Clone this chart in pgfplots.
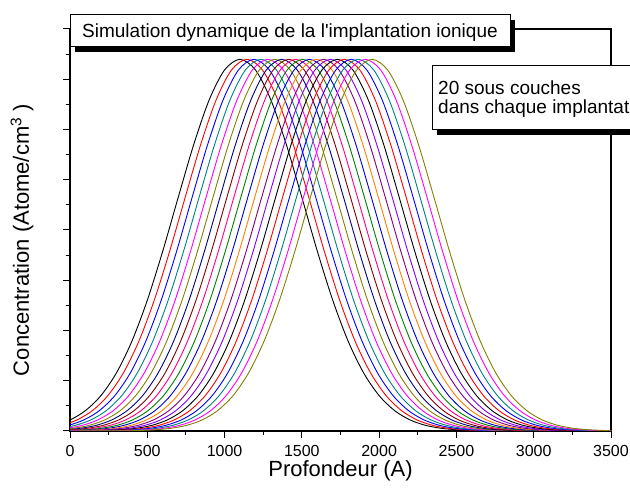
\documentclass[border=0pt]{standalone}
\usepackage{pgfplots}
\usepackage{pgfplotstable}
\pgfplotsset{compat=1.18}
\usepackage{fontspec}
\setmainfont{Liberation Sans}[Ligatures=TeXOff]

\definecolor{c1}{HTML}{000000}
\definecolor{c2}{HTML}{FF0000}
\definecolor{c3}{HTML}{0000FF}
\definecolor{c4}{HTML}{008080}
\definecolor{c5}{HTML}{FF00FF}
\definecolor{c6}{HTML}{808000}
\definecolor{c7}{HTML}{000080}
\definecolor{c8}{HTML}{800000}
\definecolor{c9}{HTML}{FF0080}
\definecolor{c10}{HTML}{008000}
\definecolor{c11}{HTML}{0000CC}
\definecolor{c12}{HTML}{FF8000}
\definecolor{c13}{HTML}{800080}
\definecolor{c14}{HTML}{8000FF}

\pgfplotscreateplotcyclelist{origin}{
{c1},{c2},{c3},{c4},{c5},{c6},{c7},{c8},{c9},{c10},{c11},{c12},{c13},{c14},{c1},{c2},{c3},{c4},{c5},{c6}}

% profile value y and depth of each of the 20 sub-layer profiles
\pgfplotstableread{
y x1 x2 x3 x4 x5 x6 x7 x8 x9 x10 x11 x12 x13 x14 x15 x16 x17 x18 x19 x20
0.00001 -900 -855 -810 -765 -720 -675 -630 -585 -540 -495 -450 -405 -360 -315 -270 -225 -180 -135 -90 -45
0.00059 -500 -455 -410 -365 -320 -275 -230 -185 -140 -95 -50 -5 40 85 130 175 220 265 310 355
0.00146 -400 -355 -310 -265 -220 -175 -130 -85 -40 5 50 95 140 185 230 275 320 365 410 455
0.00338 -300 -255 -210 -165 -120 -75 -30 15 60 105 150 195 240 285 330 375 420 465 510 555
0.0074 -200 -155 -110 -65 -20 25 70 115 160 205 250 295 340 385 430 475 520 565 610 655
0.01529 -100 -55 -10 35 80 125 170 215 260 305 350 395 440 485 530 575 620 665 710 755
0.02981 0 45 90 135 180 225 270 315 360 405 450 495 540 585 630 675 720 765 810 855
0.05485 100 145 190 235 280 325 370 415 460 505 550 595 640 685 730 775 820 865 910 955
0.09522 200 245 290 335 380 425 470 515 560 605 650 695 740 785 830 875 920 965 1010 1055
0.15598 300 345 390 435 480 525 570 615 660 705 750 795 840 885 930 975 1020 1065 1110 1155
0.2411 400 445 490 535 580 625 670 715 760 805 850 895 940 985 1030 1075 1120 1165 1210 1255
0.35164 500 545 590 635 680 725 770 815 860 905 950 995 1040 1085 1130 1175 1220 1265 1310 1355
0.48394 600 645 690 735 780 825 870 915 960 1005 1050 1095 1140 1185 1230 1275 1320 1365 1410 1455
0.62845 700 745 790 835 880 925 970 1015 1060 1105 1150 1195 1240 1285 1330 1375 1420 1465 1510 1555
0.77006 800 845 890 935 980 1025 1070 1115 1160 1205 1250 1295 1340 1385 1430 1475 1520 1565 1610 1655
0.89036 900 945 990 1035 1080 1125 1170 1215 1260 1305 1350 1395 1440 1485 1530 1575 1620 1665 1710 1755
0.97139 1000 1045 1090 1135 1180 1225 1270 1315 1360 1405 1450 1495 1540 1585 1630 1675 1720 1765 1810 1855
1 1100 1145 1190 1235 1280 1325 1370 1415 1460 1505 1550 1595 1640 1685 1730 1775 1820 1865 1910 1955
0.97139 1200 1245 1290 1335 1380 1425 1470 1515 1560 1605 1650 1695 1740 1785 1830 1875 1920 1965 2010 2055
0.89036 1300 1345 1390 1435 1480 1525 1570 1615 1660 1705 1750 1795 1840 1885 1930 1975 2020 2065 2110 2155
0.77006 1400 1445 1490 1535 1580 1625 1670 1715 1760 1805 1850 1895 1940 1985 2030 2075 2120 2165 2210 2255
0.62845 1500 1545 1590 1635 1680 1725 1770 1815 1860 1905 1950 1995 2040 2085 2130 2175 2220 2265 2310 2355
0.48394 1600 1645 1690 1735 1780 1825 1870 1915 1960 2005 2050 2095 2140 2185 2230 2275 2320 2365 2410 2455
0.35164 1700 1745 1790 1835 1880 1925 1970 2015 2060 2105 2150 2195 2240 2285 2330 2375 2420 2465 2510 2555
0.2411 1800 1845 1890 1935 1980 2025 2070 2115 2160 2205 2250 2295 2340 2385 2430 2475 2520 2565 2610 2655
0.15598 1900 1945 1990 2035 2080 2125 2170 2215 2260 2305 2350 2395 2440 2485 2530 2575 2620 2665 2710 2755
0.09522 2000 2045 2090 2135 2180 2225 2270 2315 2360 2405 2450 2495 2540 2585 2630 2675 2720 2765 2810 2855
0.05485 2100 2145 2190 2235 2280 2325 2370 2415 2460 2505 2550 2595 2640 2685 2730 2775 2820 2865 2910 2955
0.02981 2200 2245 2290 2335 2380 2425 2470 2515 2560 2605 2650 2695 2740 2785 2830 2875 2920 2965 3010 3055
0.01529 2300 2345 2390 2435 2480 2525 2570 2615 2660 2705 2750 2795 2840 2885 2930 2975 3020 3065 3110 3155
0.0074 2400 2445 2490 2535 2580 2625 2670 2715 2760 2805 2850 2895 2940 2985 3030 3075 3120 3165 3210 3255
0.00338 2500 2545 2590 2635 2680 2725 2770 2815 2860 2905 2950 2995 3040 3085 3130 3175 3220 3265 3310 3355
0.00146 2600 2645 2690 2735 2780 2825 2870 2915 2960 3005 3050 3095 3140 3185 3230 3275 3320 3365 3410 3455
0.00059 2700 2745 2790 2835 2880 2925 2970 3015 3060 3105 3150 3195 3240 3285 3330 3375 3420 3465 3510 3555
0 3500 3545 3590 3635 3680 3725 3770 3815 3860 3905 3950 3995 4040 4085 4130 4175 4220 4265 4310 4355
}\profiles

\begin{document}
\begin{tikzpicture}
\useasboundingbox (-70pt,-62pt) rectangle (560pt,431pt);
\clip (-70pt,-62pt) rectangle (560pt,431pt);
\begin{axis}[
  at={(0pt,0pt)}, anchor=south west,
  scale only axis, width=541pt, height=402pt,
  xmin=0, xmax=3500, ymin=0, ymax=1.0816,
  xtick={0,500,...,3500}, minor x tick num=1,
  ytick={0,0.1352,0.2704,0.4056,0.5408,0.676,0.8112,0.9464,1.0816},
  minor y tick num=1, yticklabels={},
  xtick pos=bottom, ytick pos=left,
  tick align=outside,
  major tick length=7pt, minor tick length=4pt,
  every tick/.style={black, line width=1pt},
  axis line style={line width=1.1pt},
  /pgf/number format/assume math mode=true,
  /pgf/number format/1000 sep={},
  tick label style={font=\fontsize{16}{19}\selectfont},
  xticklabel style={yshift=-4pt},
  xlabel={Profondeur (A)},
  ylabel={Concentration (Atome/cm\textsuperscript{3} )},
  every axis x label/.style={at={(axis description cs:0.5,-0.1),yshift=-4pt}, anchor=center, font=\fontsize{22}{26}\selectfont},
  every axis y label/.style={at={(axis description cs:-0.0887,0.475)}, rotate=90, anchor=center, font=\fontsize{22}{26}\selectfont},
  cycle list name=origin,
  every axis plot/.append style={smooth, line width=0.9pt, no markers},
]
\pgfplotsinvokeforeach{1,...,20}{
  \addplot table[x=x#1, y=y]{\profiles};
}
\end{axis}
% title box with shadow
\fill[black] (5pt,379pt) rectangle (445pt,411pt);
\draw[fill=white, line width=0.8pt] (0pt,385pt) rectangle (440pt,417pt);
\node[anchor=base west, inner sep=0pt, font=\fontsize{19}{22}\selectfont] at (12pt,393.5pt) {Simulation dynamique de la l'implantation ionique};
% annotation box with shadow
\fill[black] (367pt,296pt) rectangle (610pt,361pt);
\draw[fill=white, line width=0.8pt] (362pt,302pt) rectangle (605pt,366pt);
\node[anchor=base west, inner sep=0pt, font=\fontsize{19}{22}\selectfont] at (368pt,336pt) {20 sous couches};
\node[anchor=base west, inner sep=0pt, font=\fontsize{19}{22}\selectfont] at (368pt,317.5pt) {dans chaque implantation};
\end{tikzpicture}
\end{document}
